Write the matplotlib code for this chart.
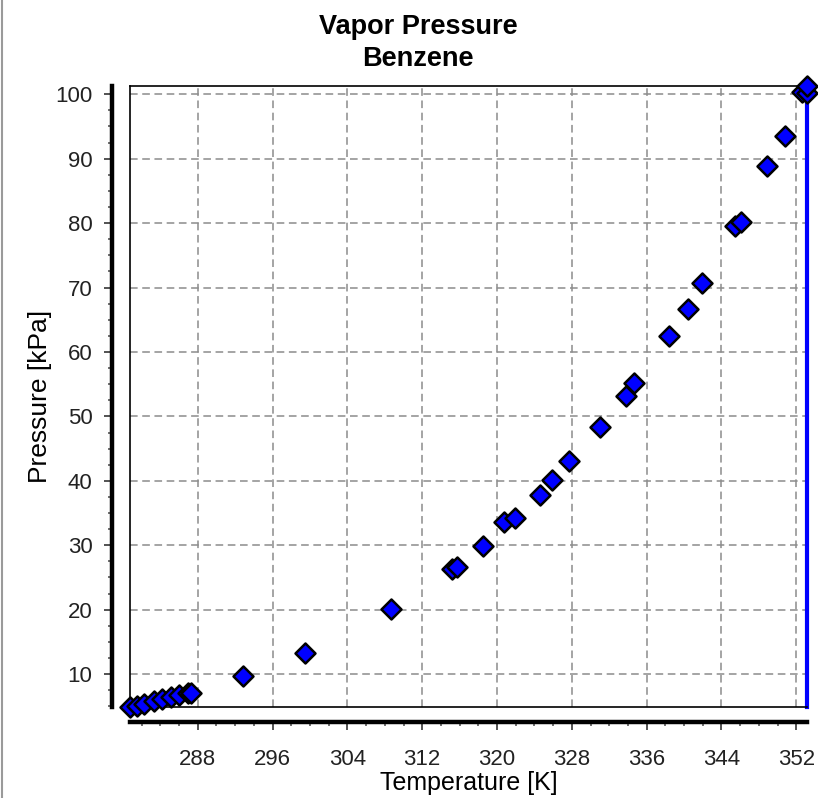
import matplotlib
matplotlib.use("Agg")
import matplotlib.pyplot as plt
from matplotlib.ticker import MultipleLocator
from matplotlib.lines import Line2D
from matplotlib.markers import MarkerStyle

plt.rcParams['font.family'] = ['Liberation Sans', 'DejaVu Sans']

temperature_K = [280.75, 281.5, 282.2, 283.3, 284.2, 285.1, 286.0, 286.9, 287.3,
                 292.8, 299.5, 308.7, 315.2, 315.7, 318.5, 320.7, 321.9, 324.6,
                 325.9, 327.75, 331.0, 333.8, 334.7, 338.4, 340.4, 341.96,
                 345.5, 346.1, 348.9, 350.8, 352.6, 353.1, 353.15]
pressure_kPa = [4.97, 5.1, 5.3, 5.75, 6.1, 6.45, 6.8, 7.05, 7.1,
                9.74, 13.26, 20.14, 26.3, 26.7, 29.95, 33.6, 34.3, 37.8,
                40.15, 43.1, 48.4, 53.2, 55.25, 62.5, 66.7, 70.7,
                79.5, 80.1, 88.9, 93.5, 100.4, 100.15, 101.33]

title_lines = ["Vapor Pressure", "Benzene"]
x_label = "Temperature [K]"
y_label = "Pressure [kPa]"

W, H = 818, 798
fig = plt.figure(figsize=(W / 100, H / 100), dpi=100)
ax = fig.add_axes([130 / W, 1 - 706.5 / H, (807 - 130) / W, (706.5 - 85.7) / H])

ax.plot(temperature_K, pressure_kPa, linestyle='none',
        marker=MarkerStyle('D', joinstyle='round'), markersize=10,
        markerfacecolor='#0000ff', markeredgecolor='black', markeredgewidth=1.8,
        clip_on=False, zorder=10)

ax.set_xlim(min(temperature_K), max(temperature_K))
ax.set_ylim(min(pressure_kPa), max(pressure_kPa))

ax.xaxis.set_major_locator(MultipleLocator(8))
ax.xaxis.set_minor_locator(MultipleLocator(2))
ax.yaxis.set_major_locator(MultipleLocator(10))
ax.yaxis.set_minor_locator(MultipleLocator(2.5))

ax.grid(True, which='major', color='#8c8c8c', linestyle=(0, (5, 3)), linewidth=1.1)

# offset axis spines
ax.spines['left'].set_position(('outward', 13))
ax.spines['bottom'].set_position(('outward', 11.5))
for s in ('left', 'bottom'):
    ax.spines[s].set_linewidth(3.2)
    ax.spines[s].set_color('black')
ax.spines['top'].set_linewidth(1.2)
ax.spines['top'].set_color('black')
ax.spines['right'].set_linewidth(3)
ax.spines['right'].set_color('#0000ff')

# inner frame lines (left & bottom of plot box)
ax.add_line(Line2D([0, 0], [0, 1], transform=ax.transAxes, color='black',
                   linewidth=1.2, clip_on=False, zorder=5))
ax.add_line(Line2D([0, 1], [0, 0], transform=ax.transAxes, color='black',
                   linewidth=1.2, clip_on=False, zorder=5))

ax.tick_params(axis='both', which='major', direction='out', length=6, width=1.3,
               color='#444444', labelsize=16, labelcolor='#222222')
ax.tick_params(axis='y', which='major', pad=8)
ax.tick_params(axis='x', which='major', pad=13)
ax.tick_params(axis='both', which='minor', direction='out', length=3, width=1.3,
               color='#666666')

ax.set_xlabel(x_label, fontsize=18, labelpad=0.5)
ax.set_ylabel(y_label, fontsize=19, labelpad=2.5)

# title centred on the figure
fig.text(418 / W, 1 - 14 / H, "\n".join(title_lines), ha='center', va='top',
         fontsize=19.5, fontweight='bold', linespacing=1.3,
         multialignment='center')

# panel border on the left edge
fig.add_artist(Line2D([1.5 / W, 1.5 / W], [0, 1], transform=fig.transFigure,
                      color='#9a9a9a', linewidth=1.5))

fig.savefig("out.png", dpi=100)
